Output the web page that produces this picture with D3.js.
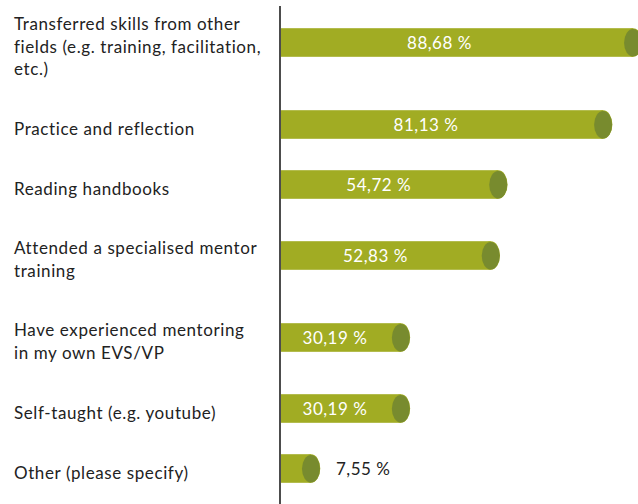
<!DOCTYPE html>
<html>
<head>
<meta charset="utf-8">
<script src="https://cdn.jsdelivr.net/npm/d3@7"></script>
<style>
  html, body { margin: 0; padding: 0; background: #fff; }
  svg { display: block; }
</style>
</head>
<body>
<svg id="chart" width="638" height="504"></svg>
<script>
// ---- data ----
const categories = [
  "Transferred skills from other\nfields (e.g. training, facilitation,\netc.)",
  "Practice and reflection",
  "Reading handbooks",
  "Attended a specialised mentor\ntraining",
  "Have experienced mentoring\nin my own EVS/VP",
  "Self-taught (e.g. youtube)",
  "Other (please specify)"
];
const values = [88.68, 81.13, 54.72, 52.83, 30.19, 30.19, 7.55];

// ---- layout ----
const W = 638, H = 504;
const svg = d3.select("#chart");
const fontFamily = "Lato, 'Open Sans', sans-serif";
const bodyColor = "#a1ac23";
const capColor = "#788b2e";
const lineH = 22.5;     // text line height
const rowUnit = 11;     // spacing per label line (half)
const rowPad = 38;
const barH = 28.6;
const firstCenter = 42.5;

const x = d3.scaleLinear().domain([0, 100]).range([281, 678]);

const rows = categories.map((c, i) => ({ lines: c.split("\n"), value: values[i] }));
let yc = firstCenter;
rows.forEach((r, i) => {
  if (i > 0) {
    yc += (rows[i - 1].lines.length + r.lines.length) * rowUnit + rowPad;
  }
  r.cy = yc;
});

const fmt = v => d3.format(".2f")(v).replace(".", ",") + " %";

// category labels
const lab = svg.append("g")
  .attr("font-family", fontFamily).attr("font-size", 17)
  .attr("letter-spacing", 0.6).attr("fill", "#222");
rows.forEach(r => {
  const n = r.lines.length;
  const t = lab.append("text").attr("x", 14);
  r.lines.forEach((ln, j) => {
    t.append("tspan").attr("x", 14)
      .attr("y", r.cy + 10 - (n - 1) * lineH / 2 + j * lineH)
      .text(ln);
  });
});

// bars
const bars = svg.append("g");
rows.forEach(r => {
  const x0 = x(0), x1 = x(r.value);
  bars.append("rect")
    .attr("x", x0).attr("y", r.cy - barH / 2)
    .attr("width", x1 - x0).attr("height", barH)
    .attr("fill", bodyColor);
  bars.append("ellipse")
    .attr("cx", x1).attr("cy", r.cy)
    .attr("rx", 9.3).attr("ry", barH / 2)
    .attr("fill", bodyColor);
  bars.append("ellipse")
    .attr("cx", x1).attr("cy", r.cy + 0.3)
    .attr("rx", 9).attr("ry", barH / 2 - 0.6)
    .attr("fill", capColor);
});

// value labels
const vl = svg.append("g")
  .attr("font-family", fontFamily).attr("font-size", 17)
  .attr("letter-spacing", 0.5);
rows.forEach(r => {
  const inside = r.value > 20;
  vl.append("text")
    .attr("x", inside ? x(r.value * 0.45) : x(r.value) + 25)
    .attr("y", r.cy + 6)
    .attr("text-anchor", inside ? "middle" : "start")
    .attr("fill", inside ? "#fff" : "#222")
    .text(fmt(r.value));
});

// axis line
svg.append("line")
  .attr("x1", x(0) - 1).attr("x2", x(0) - 1)
  .attr("y1", 6).attr("y2", H)
  .attr("stroke", "#000").attr("stroke-width", 1.4);
</script>
</body>
</html>
